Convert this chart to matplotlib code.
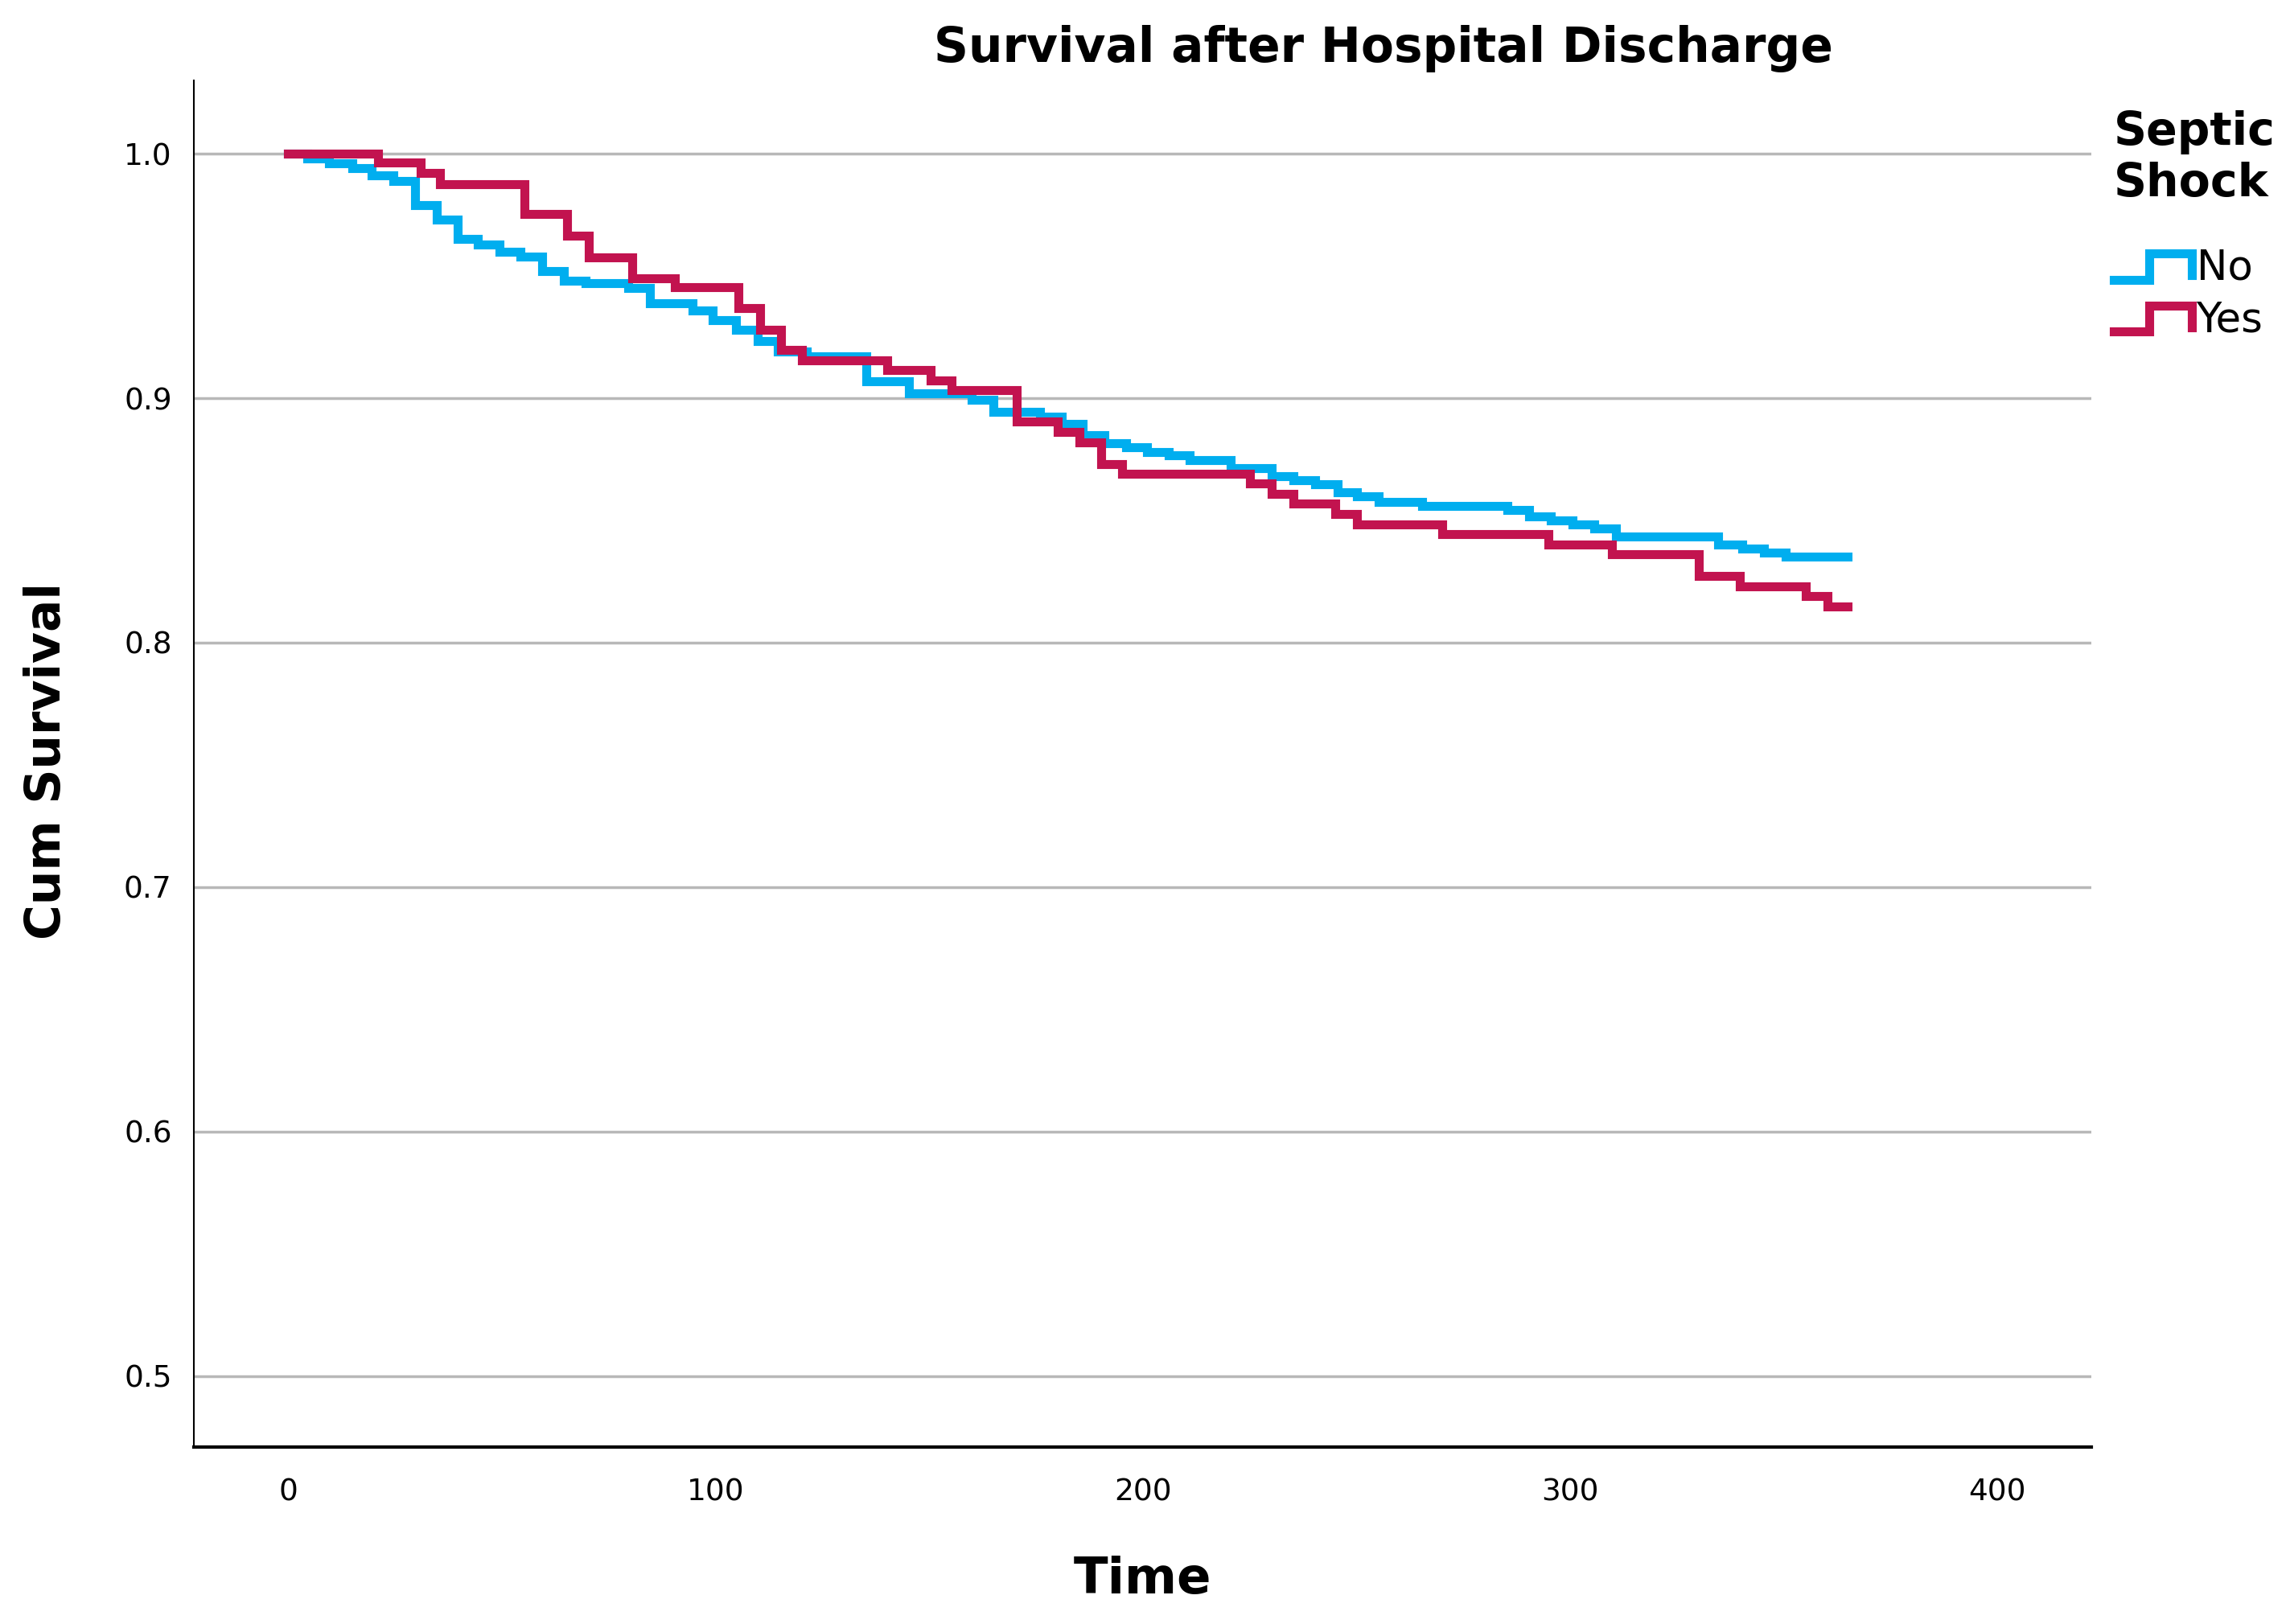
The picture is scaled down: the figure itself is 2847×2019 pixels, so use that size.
import matplotlib
matplotlib.use("Agg")
import matplotlib.pyplot as plt
import numpy as np
from matplotlib.legend_handler import HandlerBase
from matplotlib.lines import Line2D

# Kaplan-Meier steps (time in days, survival after the step)
no_times = [0, 4.5, 9.5, 15, 19.6, 24.6, 29.6, 34.7, 39.7, 44.3, 49.4, 54.4, 59.4,
            64.5, 69.5, 79.6, 84.6, 94.7, 99.3, 104.8, 109.8, 114.5, 121.3, 135.2,
            145.2, 160, 165, 176, 181, 186, 191, 196, 201, 206, 211, 220.5, 230.2,
            235.3, 240.4, 245.5, 250.1, 255.2, 265.4, 285.3, 290.4, 295.5, 300.6,
            305.7, 310.8, 334.7, 340.3, 345.4, 350.5, 365]
no_surv = [1.0, 0.998, 0.996, 0.994, 0.991, 0.989, 0.979, 0.973, 0.965, 0.963, 0.960,
           0.958, 0.952, 0.948, 0.947, 0.945, 0.939, 0.936, 0.932, 0.928, 0.9235,
           0.919, 0.917, 0.907, 0.902, 0.8995, 0.8945, 0.8925, 0.8895, 0.885, 0.8815,
           0.880, 0.878, 0.8765, 0.8746, 0.8713, 0.868, 0.8664, 0.8647, 0.8614,
           0.8598, 0.8576, 0.8559, 0.8543, 0.8515, 0.8499, 0.8482, 0.8466, 0.8433,
           0.840, 0.8384, 0.8367, 0.8351, 0.8351]

yes_times = [0, 21, 31, 35.5, 55.3, 65.3, 70.4, 80.5, 90.5, 105.3, 110.4, 115.4, 120.2,
             140.2, 150.3, 155.3, 170.4, 180.1, 185.1, 190.2, 195.2, 225.1, 230.2,
             235.3, 245, 250.1, 270, 295, 309.7, 330.1, 339.8, 355.1, 360.2, 365]
yes_surv = [1.0, 0.9963, 0.992, 0.9875, 0.9754, 0.9665, 0.9577, 0.9489, 0.9455, 0.937,
            0.928, 0.9198, 0.9156, 0.9116, 0.9072, 0.9033, 0.8906, 0.8862, 0.8818,
            0.873, 0.8691, 0.8653, 0.8609, 0.857, 0.8526, 0.8482, 0.8444, 0.840,
            0.8362, 0.8274, 0.823, 0.8191, 0.8147, 0.8147]

group_labels = ["No", "Yes"]
group_colors = ["#00AEEF", "#C2134F"]
x_ticks = [0, 100, 200, 300, 400]
y_ticks = [0.5, 0.6, 0.7, 0.8, 0.9, 1.0]


class StepHandler(HandlerBase):
    # legend key drawn as a little step, like SPSS does
    def create_artists(self, legend, orig_handle, xdescent, ydescent, width, height,
                       fontsize, trans):
        xs = np.array([0, 0.45, 0.45, 1.0, 1.0]) * width - xdescent
        ys = np.array([0.0, 0.0, 0.9, 0.9, 0.15]) * height - ydescent
        line = Line2D(xs, ys, color=orig_handle.get_color(),
                      lw=orig_handle.get_linewidth(), transform=trans,
                      solid_joinstyle="miter")
        return [line]


plt.rcParams['font.family'] = ['DejaVu Sans']

fig = plt.figure(figsize=(28.47, 20.19), dpi=100)
ax = fig.add_axes([0.0848, 0.109, 0.8285, 0.8415])

lines = []
for t, s, lab, col in zip([no_times, yes_times], [no_surv, yes_surv],
                          group_labels, group_colors):
    ln, = ax.step(t, s, where="post", color=col, lw=8, label=lab, zorder=3,
                  solid_joinstyle="miter")
    lines.append(ln)

ax.set_xlim(-22, 422)
ax.set_ylim(0.471, 1.030)
ax.set_xticks(x_ticks)
ax.set_yticks(y_ticks)
ax.set_yticklabels([f"{v:.1f}" for v in y_ticks])
ax.tick_params(axis="both", length=0, labelsize=27)
ax.tick_params(axis="x", pad=28)
ax.tick_params(axis="y", pad=20)
ax.yaxis.grid(True, color="#b8b8b8", lw=2.5)
ax.set_axisbelow(True)

for side in ["top", "right"]:
    ax.spines[side].set_visible(False)
ax.spines["left"].set_linewidth(1.5)
ax.spines["bottom"].set_linewidth(3)

fig.text(0.604, 0.970, "Survival after Hospital Discharge", ha="center", va="center",
         fontsize=43, fontweight="bold")
fig.text(0.0204, 0.5315, "Cum Survival", ha="center", va="center", rotation=90,
         fontsize=43, fontweight="bold")
fig.text(0.499, 0.027, "Time", ha="center", va="center", fontsize=45,
         fontweight="bold")

leg = fig.legend(handles=lines, labels=group_labels, loc="upper left",
                 bbox_to_anchor=(0.923, 0.932), frameon=False, fontsize=37,
                 title="Septic\nShock", title_fontproperties={"size": 41, "weight": "bold"},
                 handler_map={Line2D: StepHandler()}, handlelength=1.9,
                 handletextpad=0.1, labelspacing=0.28, borderpad=0, borderaxespad=0)
leg._legend_box.align = "left"
leg._legend_box.sep = 38

fig.savefig("out.png", dpi=100)
